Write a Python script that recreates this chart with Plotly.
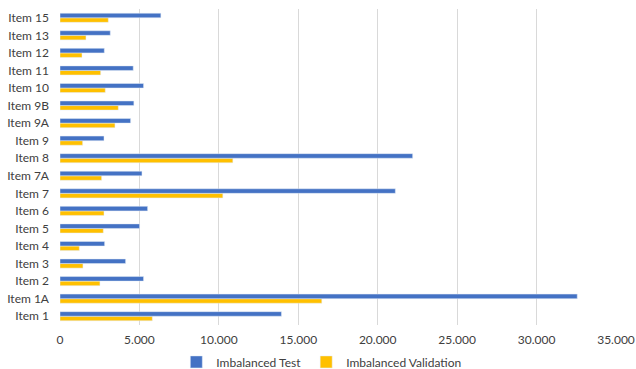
import plotly.graph_objects as go

categories = ["Item 1", "Item 1A", "Item 2", "Item 3", "Item 4", "Item 5", "Item 6", "Item 7",
              "Item 7A", "Item 8", "Item 9", "Item 9A", "Item 9B", "Item 10", "Item 11", "Item 12",
              "Item 13", "Item 15"]
test_vals = [13940, 32560, 5260, 4130, 2810, 5010, 5515, 21110,
             5160, 22200, 2770, 4445, 4650, 5260, 4610, 2790, 3165, 6350]
valid_vals = [5810, 16480, 2515, 1445, 1215, 2725, 2770, 10250,
              2620, 10880, 1425, 3460, 3670, 2850, 2560, 1385, 1635, 3040]
x_ticks = [0, 5000, 10000, 15000, 20000, 25000, 30000, 35000]

FONT = "Lato"

fig = go.Figure()
fig.add_trace(go.Bar(y=categories, x=valid_vals, orientation="h", name="Imbalanced Validation",
                     marker=dict(color="#FFC000"), legendrank=2))
fig.add_trace(go.Bar(y=categories, x=test_vals, orientation="h", name="Imbalanced Test",
                     marker=dict(color="#4472C4"), legendrank=1))

fig.update_layout(
    width=636, height=369,
    margin=dict(l=60, r=20, t=9, b=44, autoexpand=False),
    barmode="group", bargap=0.48, bargroupgap=0,
    plot_bgcolor="white", paper_bgcolor="white",
    separators=",.",
    font=dict(family=FONT, size=12, color="#404040"),
    legend=dict(orientation="h", x=0.47, xanchor="center", yref="paper", y=-0.071, yanchor="top",
                font=dict(family=FONT, size=12, color="#404040"), itemwidth=30,
                traceorder="normal"),
    xaxis=dict(range=[0, 35000], tickvals=x_ticks, tickformat=",d", showgrid=True,
               gridcolor="#D9D9D9", gridwidth=1, zeroline=False, showline=False,
               ticklabelstandoff=6, fixedrange=True),
    yaxis=dict(categoryorder="array", categoryarray=categories, showgrid=False,
               zeroline=False, showline=False, ticklabelstandoff=10, fixedrange=True),
)

fig.write_html("out.html")
